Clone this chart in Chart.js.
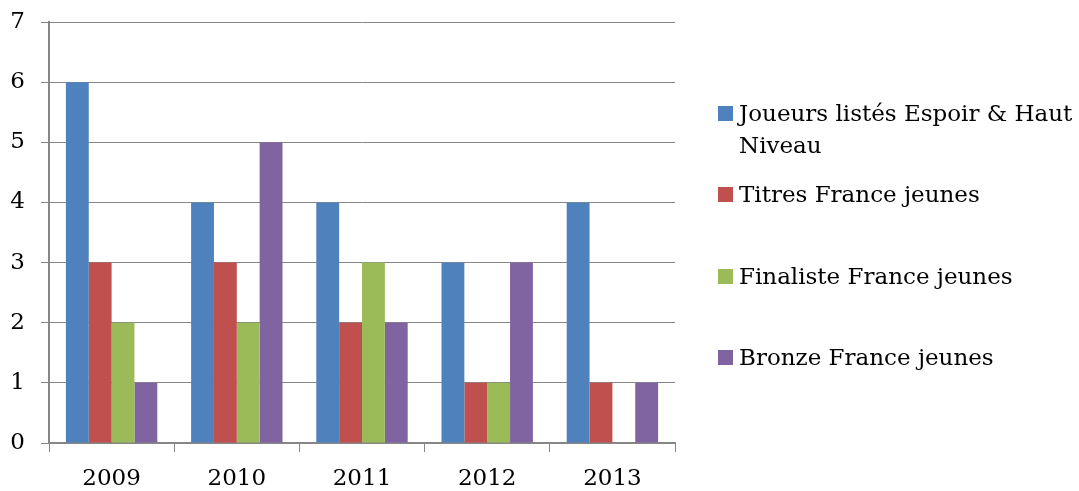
<!DOCTYPE html>
<html>
<head>
<meta charset="utf-8">
<script src="https://cdn.jsdelivr.net/npm/chart.js@4"></script>
<style>
  body { margin: 0; background: #fff; }
  #wrap { position: relative; width: 1079px; height: 491px; }
  #legend { position: absolute; left: 718px; top: 0; font-family: "DejaVu Serif", serif; font-size: 23px; color: #000; }
  .item { position: absolute; left: 0; white-space: nowrap; }
  .sw { position: absolute; left: 0; width: 15px; height: 15px; }
  .lbl { position: absolute; left: 21px; line-height: 32px; }
</style>
</head>
<body>
<div id="wrap">
  <canvas id="c" width="1079" height="491"></canvas>
  <div id="legend"></div>
</div>
<script>
// Données
const annees = ['2009', '2010', '2011', '2012', '2013'];
const joueurs = [6, 4, 4, 3, 4];
const titres = [3, 3, 2, 1, 1];
const finaliste = [2, 2, 3, 1, 0];
const bronze = [1, 5, 2, 3, 1];

const series = [
  { label: ['Joueurs listés Espoir & Haut', 'Niveau'], data: joueurs, color: '#4F81BD' },
  { label: ['Titres France jeunes'], data: titres, color: '#C0504D' },
  { label: ['Finaliste France jeunes'], data: finaliste, color: '#9BBB59' },
  { label: ['Bronze France jeunes'], data: bronze, color: '#8064A2' }
];

const font = { family: '"DejaVu Serif", serif', size: 23 };
const gris = '#868686';

new Chart(document.getElementById('c'), {
  type: 'bar',
  data: {
    labels: annees,
    datasets: series.map(s => ({
      label: s.label.join(' '),
      data: s.data,
      backgroundColor: s.color,
      borderWidth: 0,
      barPercentage: 1,
      categoryPercentage: 0.73
    }))
  },
  options: {
    responsive: false,
    animation: false,
    layout: { padding: { top: 22, right: 404, left: 0, bottom: 0 } },
    plugins: { legend: { display: false }, tooltip: { enabled: false } },
    scales: {
      x: {
        grid: { offset: true, drawOnChartArea: false, drawTicks: true, tickLength: 9, color: gris, lineWidth: 1 },
        border: { color: gris, width: 2 },
        ticks: { color: '#000', font: font, padding: 13 },
        afterFit: s => { s.height = 48; }
      },
      y: {
        min: 0, max: 7,
        grid: { color: gris, lineWidth: 1, tickLength: 8 },
        border: { color: gris, width: 2 },
        ticks: { stepSize: 1, color: '#000', font: font, padding: 16 },
        afterFit: s => { s.width = 49; s.paddingTop = 0; s.paddingBottom = 0; }
      }
    }
  }
});

// Légende à droite
const leg = document.getElementById('legend');
const tops = [106, 187, 269, 350];
series.forEach((s, i) => {
  const it = document.createElement('div');
  it.className = 'item';
  it.style.top = tops[i] + 'px';
  it.innerHTML = '<div class="sw" style="top:0;background:' + s.color + '"></div>' +
    '<div class="lbl" style="top:-9px">' + s.label.join('<br>') + '</div>';
  leg.appendChild(it);
});
</script>
</body>
</html>
